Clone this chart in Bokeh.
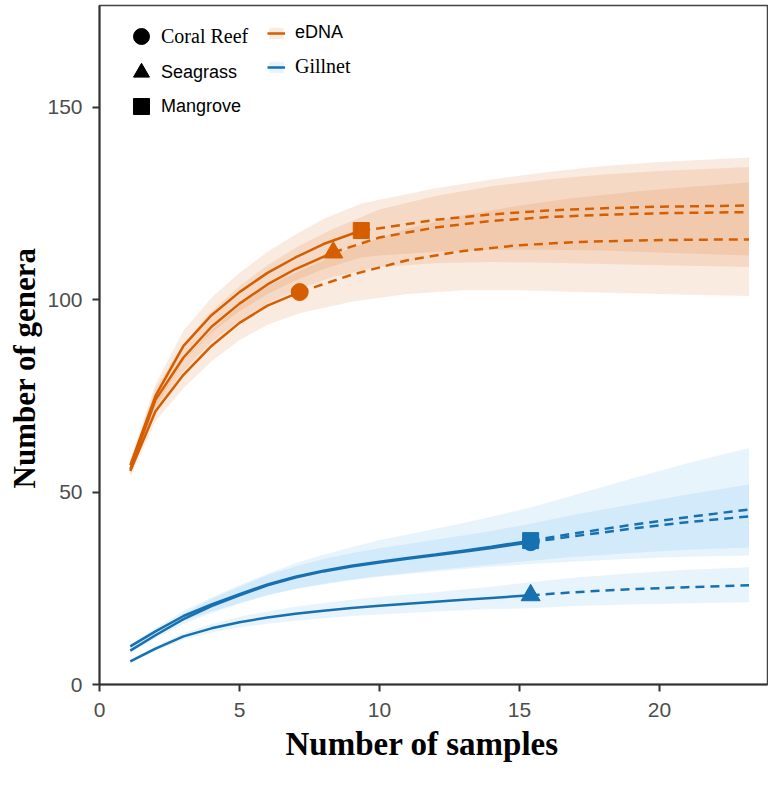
from bokeh.plotting import figure
from bokeh.models import Legend, LegendItem, Range1d, FixedTicker, Title
from bokeh.embed import file_html
from bokeh.resources import INLINE

ORANGE = "#D55E00"
BLUE = "#1770B0"
ORANGE_BAND = "#D55E00"
BLUE_BAND = "#56B4E9"
NAN = float("nan")

# ---------------- eDNA ----------------
edna_coral_x_rare = [1.1, 2, 3, 4, 5, 6, 7.15]
edna_coral_y_rare = [55.5, 71, 80.5, 88, 94, 98.5, 102]
edna_coral_x_ext = [7.15, 9, 11, 13, 15, 17, 19, 21, 23.2]
edna_coral_y_ext = [102, 106.5, 110.3, 112.7, 114.2, 115.0, 115.4, 115.6, 115.7]
edna_coral_lo = [54, 68.5, 77, 84, 89.5, 93.5, 96.5, 99.5, 101.5, 102.5, 102.5, 102, 101.7, 101.3, 101]
edna_coral_hi = [57, 73.5, 84, 92, 98.5, 103.5, 107.5, 113.5, 118.5, 122, 124.5, 126.5, 128, 129.3, 130.5]

edna_sea_x_rare = [1.1, 2, 3, 4, 5, 6, 7, 8.35]
edna_sea_y_rare = [56, 74, 85, 93, 99, 104, 108, 112.3]
edna_sea_x_ext = [8.35, 10, 12, 14, 16, 18, 20, 23.2]
edna_sea_y_ext = [112.3, 116.2, 118.8, 120.5, 121.5, 122.1, 122.5, 122.8]
edna_sea_lo = [54.5, 71, 81.5, 89, 94.5, 99, 102.5, 106, 108.5, 109.5, 109.8, 109.6, 109.3, 109, 108.5]
edna_sea_hi = [57.5, 77, 88.5, 97, 103.5, 109, 113.5, 118.5, 123.5, 127, 129.5, 131.3, 132.6, 133.5, 134.5]

edna_man_x_rare = [1.1, 2, 3, 4, 5, 6, 7, 8, 9.35]
edna_man_y_rare = [57, 75, 88, 96, 102, 107, 111, 114.5, 118]
edna_man_x_ext = [9.35, 10, 12, 14, 16, 18, 20, 23.2]
edna_man_y_ext = [118, 118.6, 120.8, 122.2, 123.2, 123.8, 124.2, 124.5]
edna_man_lo = [55.5, 72, 84, 91.5, 97, 101.5, 105, 108, 111, 111.5, 112.5, 113, 113, 112.8, 112.3, 111.5]
edna_man_hi = [58.5, 78, 92, 100.5, 107, 112.5, 117, 121, 125, 126, 129, 131.3, 133.2, 134.8, 135.8, 137]

# ---------------- Gillnet ----------------
gill_x_rare = [1.1, 2, 3, 4, 5, 6, 7, 8, 9, 10, 11, 12, 13, 14, 15.4]
gill_x_ext = [15.4, 17, 19, 21, 23.2]

gill_man_y_rare = [9.9, 13.8, 17.8, 20.8, 23.5, 26.0, 28.0, 29.6, 30.9, 31.9, 32.9, 33.8, 34.8, 35.8, 37.4]
gill_man_y_ext = [37.4, 39.3, 41.5, 43.5, 45.5]
gill_man_lo = [9.4, 13.0, 16.5, 19.0, 21.2, 23.2, 24.8, 26.0, 27.1, 28.0, 28.7, 29.4, 30.0, 30.6, 31.3,
               32.0, 32.7, 33.2, 33.5]
gill_man_hi = [10.4, 14.6, 19.1, 22.6, 25.8, 28.8, 31.5, 33.7, 35.7, 37.5, 39.0, 40.5, 42.0, 43.6, 46.0,
               49.3, 53.5, 57.5, 61.5]

gill_coral_y_rare = [8.8, 12.8, 17.0, 20.4, 23.2, 25.8, 27.8, 29.4, 30.7, 31.7, 32.7, 33.6, 34.5, 35.5, 37.0]
gill_coral_y_ext = [37.0, 38.6, 40.5, 42.2, 43.7]
gill_coral_lo = [8.3, 12.0, 15.7, 18.6, 21.0, 23.2, 24.9, 26.2, 27.3, 28.2, 29.0, 29.8, 30.5, 31.2, 32.2,
                 33.2, 34.2, 35.0, 35.6]
gill_coral_hi = [9.3, 13.6, 18.3, 22.2, 25.4, 28.4, 30.7, 32.6, 34.1, 35.4, 36.5, 37.6, 38.7, 39.9, 41.8,
                 44.2, 46.8, 49.4, 52.0]

gill_sea_y_rare = [6.0, 9.3, 12.5, 14.6, 16.2, 17.4, 18.4, 19.2, 19.9, 20.5, 21.0, 21.5, 22.0, 22.5, 23.2]
gill_sea_y_ext = [23.2, 24.0, 24.8, 25.3, 25.8]
gill_sea_lo = [5.6, 8.7, 11.7, 13.5, 14.8, 15.8, 16.6, 17.2, 17.8, 18.2, 18.6, 19.0, 19.3, 19.6, 19.8,
               20.4, 20.8, 21.1, 21.4]
gill_sea_hi = [6.4, 9.9, 13.3, 15.7, 17.6, 19.0, 20.2, 21.2, 22.0, 22.8, 23.4, 24.0, 24.7, 25.4, 26.6,
               27.8, 28.9, 29.8, 30.5]

x_ticks = [0, 5, 10, 15, 20]
y_ticks = [0, 50, 100, 150]
x_title_text = "Number of samples"
y_title_text = "Number of genera"

series = [
    # color, band colour, marker, x_rare, y_rare, x_ext, y_ext, lo, hi, band_alpha
    (ORANGE, ORANGE_BAND, "circle", edna_coral_x_rare, edna_coral_y_rare, edna_coral_x_ext, edna_coral_y_ext, edna_coral_lo, edna_coral_hi, 0.12),
    (ORANGE, ORANGE_BAND, "triangle", edna_sea_x_rare, edna_sea_y_rare, edna_sea_x_ext, edna_sea_y_ext, edna_sea_lo, edna_sea_hi, 0.12),
    (ORANGE, ORANGE_BAND, "square", edna_man_x_rare, edna_man_y_rare, edna_man_x_ext, edna_man_y_ext, edna_man_lo, edna_man_hi, 0.12),
    (BLUE, BLUE_BAND, "square", gill_x_rare, gill_man_y_rare, gill_x_ext, gill_man_y_ext, gill_man_lo, gill_man_hi, 0.14),
    (BLUE, BLUE_BAND, "circle", gill_x_rare, gill_coral_y_rare, gill_x_ext, gill_coral_y_ext, gill_coral_lo, gill_coral_hi, 0.14),
    (BLUE, BLUE_BAND, "triangle", gill_x_rare, gill_sea_y_rare, gill_x_ext, gill_sea_y_ext, gill_sea_lo, gill_sea_hi, 0.14),
]
marker_sizes = {"circle": 17, "triangle": 19, "square": 16}

p = figure(width=768, height=774, output_backend="svg", toolbar_location=None,
           x_range=Range1d(0, 23.86), y_range=Range1d(0, 176.5),
           min_border_left=99, min_border_right=1, min_border_top=5, min_border_bottom=90)
p.grid.visible = False
p.outline_line_color = "#444444"
p.outline_line_width = 1.5
p.background_fill_color = "white"

for color, bcol, marker, xr, yr, xe, ye, lo, hi, a in series:
    bx = xr + xe[1:]
    p.varea(x=bx, y1=lo, y2=hi, fill_color=bcol, fill_alpha=a)

for color, bcol, marker, xr, yr, xe, ye, lo, hi, a in series:
    p.line(xr, yr, line_color=color, line_width=2.5)
    p.line(xe, ye, line_color=color, line_width=2.5, line_dash="9 6")

for color, bcol, marker, xr, yr, xe, ye, lo, hi, a in series:
    p.scatter([xr[-1]], [yr[-1]], marker=marker, size=marker_sizes[marker],
              fill_color=color, line_color=color)

for ax in (p.xaxis[0], p.yaxis[0]):
    ax.axis_line_color = "#333333"
    ax.axis_line_width = 2
    ax.major_tick_line_color = "#333333"
    ax.major_tick_line_width = 2
    ax.major_tick_out = 7
    ax.major_tick_in = 0
    ax.minor_tick_line_color = None
    ax.major_label_text_font = "Liberation Sans"
    ax.major_label_text_font_size = "21px"
    ax.major_label_text_color = "#4d4d4d"

p.xaxis.ticker = FixedTicker(ticks=x_ticks)
p.yaxis.ticker = FixedTicker(ticks=y_ticks)
p.xaxis.major_label_standoff = 11
p.yaxis.major_label_standoff = 10

x_title = Title(text=x_title_text, align="left", offset=186, standoff=9,
                text_font="Liberation Serif", text_font_style="bold", text_font_size="33px",
                text_color="black")
y_title = Title(text=y_title_text, align="left", offset=196, standoff=6,
                text_font="Liberation Serif", text_font_style="bold", text_font_size="31px",
                text_color="black")
p.add_layout(x_title, "below")
p.add_layout(y_title, "left")

# legend (several single-item legends to allow mixed fonts)
r_circ = p.scatter(x=[NAN], y=[NAN], marker="circle", size=16, fill_color="black", line_color="black")
r_tri = p.scatter(x=[NAN], y=[NAN], marker="triangle", size=17, fill_color="black", line_color="black")
r_sq = p.scatter(x=[NAN], y=[NAN], marker="square", size=16, fill_color="black", line_color="black")
r_eb = p.varea(x=[NAN], y1=[NAN], y2=[NAN], fill_color=ORANGE_BAND, fill_alpha=0.12)
r_el = p.line(x=[NAN], y=[NAN], line_color=ORANGE, line_width=2.5)
r_gb = p.varea(x=[NAN], y1=[NAN], y2=[NAN], fill_color=BLUE_BAND, fill_alpha=0.14)
r_gl = p.line(x=[NAN], y=[NAN], line_color=BLUE, line_width=2.5)

def add_leg(label, renderers, loc, font, size, gw, gh, standoff):
    leg = Legend(items=[LegendItem(label=label, renderers=renderers)], location=loc,
                 glyph_width=gw, glyph_height=gh, label_height=gh, label_standoff=standoff,
                 padding=0, margin=0, spacing=0, border_line_color=None,
                 background_fill_alpha=0, label_text_font=font,
                 label_text_font_size=size, label_text_color="black")
    p.add_layout(leg)

add_leg("Coral Reef", [r_circ], (22, 628), "Liberation Serif", "20px", 40, 40, 0)
add_leg("Seagrass", [r_tri], (22, 592), "Liberation Sans", "18px", 40, 40, 0)
add_leg("Mangrove", [r_sq], (22, 558), "Liberation Sans", "18px", 40, 40, 0)
add_leg("eDNA", [r_eb, r_el], (168, 641), "Liberation Sans", "18px", 18, 14, 10)
add_leg("Gillnet", [r_gb, r_gl], (168, 606), "Liberation Serif", "20px", 18, 14, 10)

open("out.html", "w").write(file_html(p, INLINE))
